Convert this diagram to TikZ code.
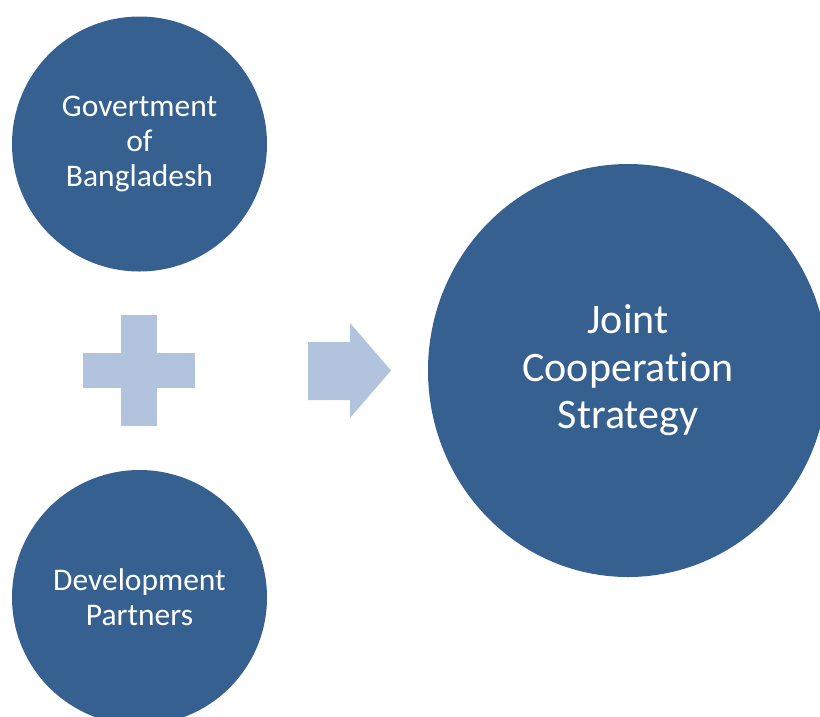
\documentclass[tikz,border=0pt]{standalone}
\usepackage{fontspec}
\setmainfont{Carlito}[Ligatures=NoCommon]
\usetikzlibrary{shapes.geometric}
\definecolor{jcsblue}{RGB}{54,96,144}
\definecolor{jcslight}{RGB}{178,195,221}

\begin{document}
\begin{tikzpicture}[x=1pt, y=-1pt,
                    party/.style={circle, fill=jcsblue, text=white, minimum size=255pt, inner sep=0pt,
                                  align=center, font=\fontsize{31.5}{35}\selectfont},
                    joint/.style={ellipse, fill=jcsblue, text=white, minimum width=400pt, minimum height=413pt,
                                  inner sep=0pt, align=center, font=\fontsize{42}{47.5}\selectfont},
                    bar/.style={rectangle, fill=jcslight, inner sep=0pt}]

            \useasboundingbox (0,0) rectangle (820,716);

            \node[party] (gob) at (139.5,144)   {Govertment\\of\\Bangladesh};
            \node[party] (dp)  at (139.5,597.5) {Development\\Partners};
            \node[joint] (jcs) at (628,370.5)   {Joint\\Cooperation\\Strategy};

            \node[bar, minimum width=112pt, minimum height=35pt] (plush) at (139,370.5) {};
            \node[bar, minimum width=36pt, minimum height=111pt] (plusv) at (139,370.5) {};

            \coordinate (tip) at (391,370.5);
            \fill[jcslight] (308,342) -- (350,342) -- (350,323) -- (tip) -- (350,418) -- (350,400) -- (308,400) -- cycle;
        \end{tikzpicture}
\end{document}
